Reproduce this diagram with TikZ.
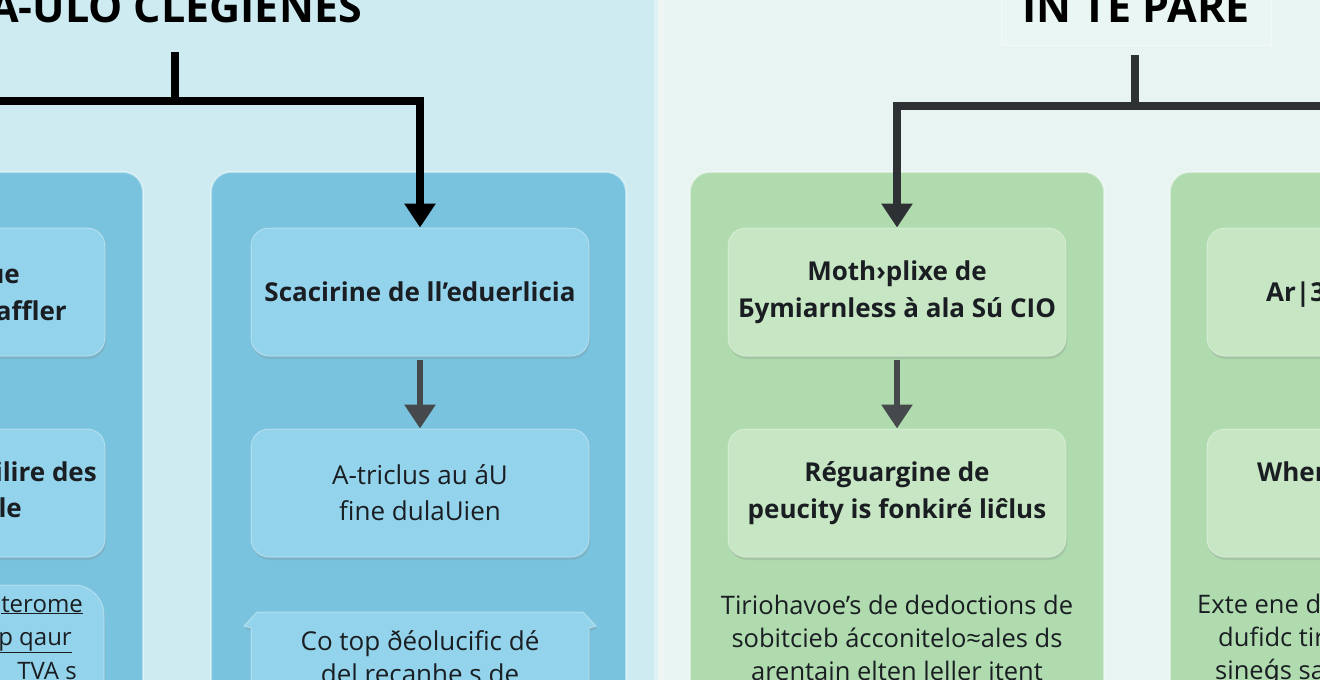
\documentclass[tikz,border=0pt]{standalone}
\usepackage{fontspec}
\setmainfont{Open Sans}
\newfontfamily\dejavu{DejaVu Sans}
\usetikzlibrary{arrows.meta,shadows}
\definecolor{leftbg}{HTML}{CDEBF1}
\definecolor{rightbg}{HTML}{E7F4F1}
\definecolor{bluepanel}{HTML}{79C3DE}
\definecolor{bluebox}{HTML}{93D3EB}
\definecolor{greenpanel}{HTML}{AFDBAE}
\definecolor{greenbox}{HTML}{C7E6C3}
\definecolor{titlebox}{HTML}{EAF6F3}
\definecolor{ink}{HTML}{1A1E22}
\definecolor{arrowc}{HTML}{45494C}
\definecolor{treer}{HTML}{2E3133}
\tikzset{
  panel/.style={rounded corners=20pt, draw=white, draw opacity=0.45, line width=2pt},
  bpanel/.style={panel, fill=bluepanel},
  gpanel/.style={panel, fill=greenpanel},
  boxbase/.style={rectangle, rounded corners=18pt, minimum width=338pt, minimum height=128pt,
    inner sep=0pt, align=center, text=ink,
    drop shadow={shadow xshift=1pt, shadow yshift=-3pt, opacity=0.22}},
  bbox/.style={boxbase, fill=bluebox, draw=white, draw opacity=0.35, line width=1pt},
  gbox/.style={boxbase, fill=greenbox, draw=white, draw opacity=0.35, line width=1pt},
  boxtxt/.style={font=\bfseries\fontsize{26}{37}\selectfont, text=ink, inner sep=0pt},
  thintxt/.style={font=\fontsize{26}{36}\selectfont, text=ink, inner sep=0pt},
  lowtxt/.style={font=\fontsize{25.5}{33}\selectfont, text=ink, inner sep=0pt, align=center},
  smalltxt/.style={font=\fontsize{24}{30}\selectfont, text=ink, inner sep=0pt},
  titletxt/.style={font=\bfseries\fontsize{43}{46}\selectfont, text=black, inner sep=0pt},
  ltree/.style={draw=black, line width=8pt},
  rtree/.style={draw=treer, line width=8pt},
  conn/.style={draw=arrowc, line width=6pt, -{Triangle[width=30pt,length=24pt]}},
}
\begin{document}
\begin{tikzpicture}[x=1pt,y=-1pt]
\useasboundingbox (0,0) rectangle (1320,680);
% backgrounds
\fill[leftbg] (0,0) rectangle (658,680);
\fill[rightbg] (658,0) rectangle (1320,680);
\fill[white,opacity=0.35] (654,0) rectangle (664,680);

% titles
\node[titletxt, anchor=base east] (ltitle) at (362,22) {A-ULO CLEGIENES};
\node[fill=titlebox, draw=white, draw opacity=0.5, line width=1pt, minimum width=270pt, minimum height=66pt, inner sep=0pt] (rtbox) at (1136,12) {};
\node[titletxt, anchor=base] (rtitle) at (1136,22) {IN TE PARE};

% panels
\draw[bpanel] (-40,172) rectangle (143,720);
\draw[bpanel] (211,172) rectangle (626,720);
\draw[gpanel] (690,172) rectangle (1104,720);
\draw[gpanel] (1170,172) rectangle (1360,720);

% column 1 (cut off on the left)
\node[bbox] (c1b1) at (-64,292) {};
\node[bbox] (c1b2) at (-64,493) {};
\draw[fill=bluebox, draw=white, draw opacity=0.35, line width=1pt, rounded corners=30pt,
  drop shadow={shadow xshift=1pt, shadow yshift=-3pt, opacity=0.22}]
  (-240,585) rectangle (104,720);
\node[boxtxt, anchor=base east] (c1t1a) at (20,283) {ue};
\node[boxtxt, anchor=base east] (c1t1b) at (67,320) {affler};
\node[boxtxt, anchor=base east] (c1t2a) at (97,481) {ilire des};
\node[boxtxt, anchor=base east] (c1t2b) at (22,517) {le};
\node[smalltxt, anchor=base east] (c1t3a) at (83,612) {\underline{terome}};
\node[smalltxt, anchor=base east] (c1t3b) at (72,645) {\underline{p qaur}};
\node[smalltxt, anchor=base east] (c1t3c) at (77,679) {TVA s};

% column 2
\node[bbox, boxtxt] (c2b1) at (420,292) {Scacirine de ll’eduerlicia};
\node[bbox, thintxt, align=center] (c2b2) at (420,493) {A-triclus au áU\\fine dulaUien};
\draw[fill=bluebox, draw=white, draw opacity=0.35, line width=1pt,
  drop shadow={shadow xshift=1pt, shadow yshift=-3pt, opacity=0.22}]
  (251,720) -- (251,628) -- (244,626) -- (257,612) -- (583,612) -- (596,626) -- (589,628) -- (589,720) -- cycle;
\node[thintxt, align=center, font=\fontsize{26}{33}\selectfont] (c2t3) at (420,657) {Co top ðéolucific dé\\del recanhe s de};

% column 3
\node[gbox, boxtxt] (c3b1) at (897,292) {Moth›plixe de\\Бymiarnless à ala Sú CIO};
\node[gbox, boxtxt] (c3b2) at (897,493) {Réguargine de\\peucity is fonkiré liĉlus};
\node[lowtxt] (c3t3) at (897,638) {Tiriohavoe’s de dedoctions de\\sobitcieb ácconitelo≈ales ds\\arentain elten leller itent};

% column 4 (cut off on the right)
\node[gbox] (c4b1) at (1376,292) {};
\node[gbox] (c4b2) at (1376,493) {};
\node[boxtxt, anchor=base west] (c4t1) at (1266,301) {Ar|3};
\node[boxtxt, anchor=base west] (c4t2) at (1257,481) {Wher};
\node[lowtxt, anchor=base west] (c4t3a) at (1197,613) {Exte ene d};
\node[lowtxt, anchor=base west] (c4t3b) at (1218,646) {dufidc tir};
\node[lowtxt, anchor=base west] (c4t3c) at (1215,679) {sine{\dejavu ǵ}s sa};

% trees
\coordinate (lstem) at (175,52);
\coordinate (ljoin) at (175,101);
\coordinate (lleft) at (-10,101);
\draw[ltree] (lstem) -- (ljoin);
\draw[ltree, -{Triangle[width=30pt,length=24pt]}] (lleft) -| (c2b1.north);

\coordinate (rstem) at (1135,55);
\coordinate (rjoin) at (1135,106);
\coordinate (rright) at (1330,106);
\draw[rtree] (rstem) -- (rjoin);
\draw[rtree, -{Triangle[width=30pt,length=24pt]}] (rright) -| (c3b1.north);

% inner arrows
\draw[conn] (c2b1.south) ++(0,3) -- (c2b2.north);
\draw[conn] (c3b1.south) ++(0,3) -- (c3b2.north);
\end{tikzpicture}
\end{document}
